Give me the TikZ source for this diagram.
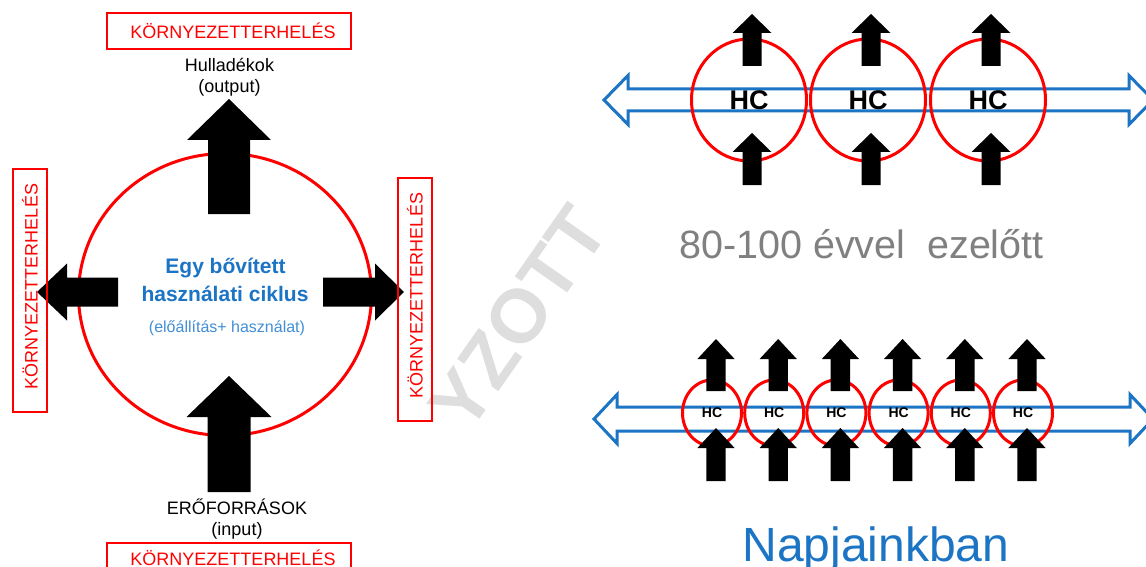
\documentclass[tikz,border=0pt]{standalone}
\usepackage{fontspec}
\setmainfont{Liberation Sans}
\usetikzlibrary{shapes.geometric}
\definecolor{kred}{RGB}{255,0,0}
\definecolor{kblue}{RGB}{28,116,196}
\definecolor{kbluesoft}{RGB}{66,142,214}
\definecolor{kgray}{RGB}{128,128,128}
\definecolor{wmgray}{RGB}{222,222,222}
\tikzset{
  % solid block arrow, tip at the origin, body running along +y
  % #1 head half width, #2 shaft half width, #3 head length, #4 total length
  pics/blockarrow/.style n args={4}{code={
    \fill[black] (0,0) -- (#1,#3) -- (#2,#3) -- (#2,#4) -- (-#2,#4)
      -- (-#2,#3) -- (-#1,#3) -- cycle;}},
  redbox/.style={draw=kred, line width=1.2pt, text=kred, inner sep=0pt,
    font=\fontsize{18}{20}\selectfont},
  ring/.style={ellipse, draw=kred, line width=3pt, inner sep=0pt},
  flow/.style={draw=kblue, line width=3pt, fill=white, line join=miter},
  lbl/.style={inner sep=0pt, anchor=base, font=\fontsize{18}{21}\selectfont},
  hcbig/.style={font=\bfseries\fontsize{27}{30}\selectfont},
  hcsmall/.style={font=\bfseries\fontsize{14}{16}\selectfont},
  wmark/.style={inner sep=0pt, text=wmgray, font=\bfseries\fontsize{76}{80}\selectfont}
}
\begin{document}
\begin{tikzpicture}[x=1pt, y=-1pt]
\useasboundingbox[fill=white] (0,0) rectangle (1146,567);

% faint background stamp
\node[wmark, rotate=55] (stamp) at (518,318) {YZOTT};

% ---------- extended usage cycle ----------
\node[ring, minimum width=293pt, minimum height=282pt] (cycle) at (225,294.5) {};

\pic (outTop) at (229,99) {blockarrow={42}{21}{41}{115}};
\pic (inBot) at (229,376) {blockarrow={42.5}{21.5}{41}{116}};
\pic[rotate=90] (outLeft) at (37,292) {blockarrow={28.5}{14.5}{30}{81}};
\pic[rotate=-90] (outRight) at (404,292) {blockarrow={28.5}{14.5}{29}{81}};

\node[anchor=base, inner sep=0pt, text=kblue, font=\bfseries\fontsize{21}{24}\selectfont] (title1) at (225.5,273) {Egy bővített};
\node[anchor=base, inner sep=0pt, text=kblue, font=\bfseries\fontsize{21}{24}\selectfont] (title2) at (225,301) {használati ciklus};
\node[anchor=base, inner sep=0pt, text=kbluesoft, font=\fontsize{16}{18}\selectfont] (title3) at (227,332) {(előállítás+ használat)};

\node[lbl] (waste) at (229.5,72) {Hulladékok};
\node[lbl] (wasteio) at (229.5,93) {(output)};
\node[lbl] (res) at (237,514) {ERŐFORRÁSOK};
\node[lbl] (resio) at (237,535) {(input)};

\node[redbox, minimum width=244pt, minimum height=36pt] (loadTop) at (229,31) {\hspace*{8pt}KÖRNYEZETTERHELÉS};
\node[redbox, minimum width=244pt, minimum height=30pt] (loadBot) at (229,558) {\hspace*{8pt}KÖRNYEZETTERHELÉS};
\node[redbox, rotate=90, minimum width=243pt, minimum height=34pt] (loadLeft) at (30,290.5) {\hspace*{8pt}KÖRNYEZETTERHELÉS};
\node[redbox, rotate=90, minimum width=243pt, minimum height=34pt] (loadRight) at (415,299.5) {\hspace*{8pt}KÖRNYEZETTERHELÉS};

% ---------- 80-100 years ago: three long cycles ----------
\draw[flow] (604,100) -- (628,75.5) -- (628,89) -- (1129,89) -- (1129,75.5)
  -- (1153,100) -- (1129,124.5) -- (1129,111) -- (628,111) -- (628,124.5) -- cycle;
\foreach \i/\cx in {1/749, 2/868, 3/988} {
  \node[ring, hcbig, minimum width=115pt, minimum height=122pt] (old\i) at (\cx,100) {HC};
  \pic (oldUp\i) at (\cx+3,14) {blockarrow={19.5}{9.5}{19}{52}};
  \pic (oldIn\i) at (\cx+3,133) {blockarrow={19.5}{9.5}{19}{52}};
}
\node[anchor=base, inner sep=0pt, text=kgray, font=\fontsize{39.5}{42}\selectfont] (past) at (861.5,258) {80-100 évvel\ \ ezelőtt};

% ---------- today: six short cycles ----------
\draw[flow] (594,419) -- (617,394.5) -- (617,407) -- (1130,407) -- (1130,394.5)
  -- (1153,419) -- (1130,443.5) -- (1130,431) -- (617,431) -- (617,443.5) -- cycle;
\foreach \i in {1,...,6} {
  \pgfmathsetmacro{\cx}{712+62.2*(\i-1)}
  \node[ring, hcsmall, minimum width=59pt, minimum height=66pt] (now\i) at (\cx,413) {HC};
  \pic (nowUp\i) at (\cx+4,339) {blockarrow={18.6}{9.7}{20}{52}};
  \pic (nowIn\i) at (\cx+4,428) {blockarrow={18.6}{9.7}{20}{53}};
}
\node[anchor=base, inner sep=0pt, text=kblue, font=\fontsize{48}{50}\selectfont] (today) at (876,561) {Napjainkban};
\end{tikzpicture}
\end{document}
